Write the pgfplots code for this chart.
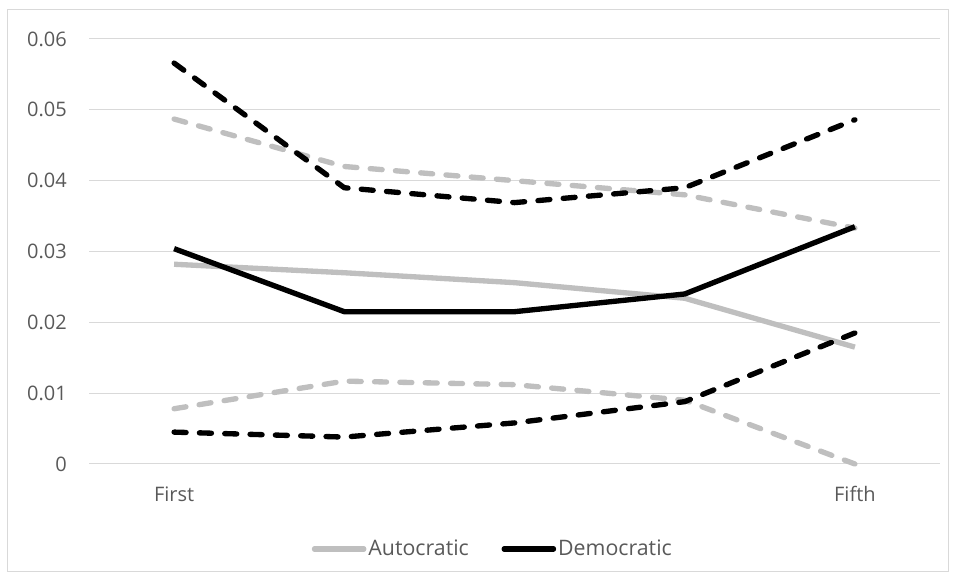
\documentclass[border=0pt]{standalone}
\usepackage{fontspec}
\setmainfont{Open Sans}
\usepackage{pgfplots}
\pgfplotsset{compat=1.18}
\definecolor{agray}{RGB}{191,191,191}
\definecolor{tgray}{RGB}{89,89,89}
\definecolor{gridc}{RGB}{217,217,217}
\begin{document}
\begin{tikzpicture}
\useasboundingbox (0pt,0pt) rectangle (717pt,435pt);
\draw[gridc, line width=0.75pt] (5.25pt,6pt) rectangle (711pt,427.5pt);
\begin{axis}[
  at={(66.75pt,87pt)}, anchor=south west,
  scale only axis, width=638.25pt, height=318.75pt,
  xmin=-0.5, xmax=4.5, ymin=0, ymax=0.06,
  scaled y ticks=false,
  ytick={0,0.01,0.02,0.03,0.04,0.05,0.06},
  yticklabels={0,0.01,0.02,0.03,0.04,0.05,0.06},
  xtick={0,4}, xticklabels={First,Fifth},
  ymajorgrids, grid style={gridc, line width=0.75pt},
  axis line style={draw=none}, major tick length=0pt,
  tick label style={font=\fontsize{15}{18}\selectfont, text=tgray},
  yticklabel style={anchor=east, inner sep=0pt, xshift=-16.5pt},
  xticklabel style={anchor=base, inner sep=0pt, yshift=-28.5pt},
  clip=false,
  legend style={at={(0.4745,-0.2)}, anchor=center, draw=none, fill=none,
    font=\fontsize{16}{19}\selectfont, text=tgray, legend columns=2,
    /tikz/every even column/.append style={column sep=23pt},
    nodes={inner sep=1.5pt}},
  legend image code/.code={\draw[#1, line cap=round] (0pt,0pt) -- (37pt,0pt);},
  every axis plot/.append style={line width=4pt, line join=round},
  dashes/.style={dash pattern=on 9pt off 10pt, line cap=round},
]
\addplot[agray] coordinates {(0,0.0282) (1,0.0270) (2,0.0256) (3,0.0234) (4,0.0165)};
\addlegendentry{Autocratic}
\addplot[agray, dashes, forget plot] coordinates {(0,0.0487) (1,0.0420) (2,0.0400) (3,0.0380) (4,0.0333)};
\addplot[agray, dashes, forget plot] coordinates {(0,0.0078) (1,0.0117) (2,0.0112) (3,0.0090) (4,0.0000)};
\addplot[black] coordinates {(0,0.0304) (1,0.0215) (2,0.0215) (3,0.0240) (4,0.0335)};
\addlegendentry{Democratic}
\addplot[black, dashes, forget plot] coordinates {(0,0.0566) (1,0.0390) (2,0.0369) (3,0.0390) (4,0.0486)};
\addplot[black, dashes, forget plot] coordinates {(0,0.0045) (1,0.0038) (2,0.0058) (3,0.0088) (4,0.0185)};
\end{axis}
\end{tikzpicture}
\end{document}
